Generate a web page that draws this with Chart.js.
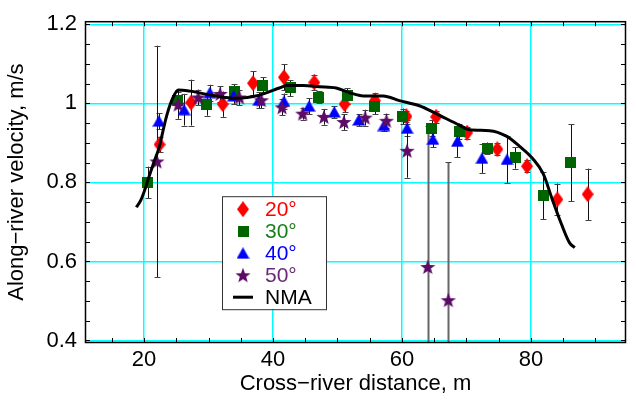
<!DOCTYPE html>
<html>
<head>
<meta charset="utf-8">
<script src="https://cdn.jsdelivr.net/npm/chart.js@4.4.0/dist/chart.umd.min.js"></script>
<style>
  html, body { margin: 0; padding: 0; background: #fff; }
  #wrap { width: 636px; height: 403px; }
</style>
</head>
<body>
<div id="wrap"><canvas id="velChart"></canvas></div>
<script>
// Values (distance in m, velocity in m/s, +/- error)
const dist20 = [22.4, 27.3, 32.2, 36.9, 41.7, 46.4, 51.1, 55.8, 60.7, 65.3, 70.1, 74.8, 79.4, 84.1, 88.8];
const vel20  = [0.896, 1.002, 0.998, 1.051, 1.066, 1.053, 0.998, 1.007, 0.967, 0.966, 0.926, 0.884, 0.841, 0.757, 0.770];
const err20  = [0.02, 0.058, 0.032, 0.03, 0.033, 0.02, 0.02, 0.02, 0.015, 0.015, 0.015, 0.015, 0.015, 0.04, 0.065];

const dist30 = [20.6, 25.2, 29.7, 34.0, 38.4, 42.7, 47.1, 51.5, 55.8, 60.1, 64.6, 68.9, 73.2, 77.6, 81.9, 86.2];
const vel30  = [0.800, 1.008, 0.997, 1.029, 1.046, 1.039, 1.016, 1.019, 0.992, 0.967, 0.937, 0.929, 0.886, 0.862, 0.767, 0.850];
const err30  = [0.04, 0.02, 0.028, 0.02, 0.02, 0.02, 0.015, 0.02, 0.02, 0.02, 0.02, 0.02, 0.015, 0.027, 0.06, 0.097];

const dist40 = [22.3, 26.2, 30.2, 33.9, 37.8, 41.7, 45.6, 49.5, 53.3, 57.2, 60.8, 64.8, 68.6, 72.4, 76.3];
const vel40  = [0.955, 0.984, 1.027, 1.019, 1.008, 1.005, 0.993, 0.978, 0.958, 0.944, 0.937, 0.909, 0.904, 0.861, 0.858];
const err40  = [0.02, 0.04, 0.02, 0.02, 0.02, 0.02, 0.02, 0.015, 0.015, 0.015, 0.02, 0.02, 0.04, 0.037, 0.06];

const dist50 = [22.0, 25.3, 28.4, 31.8, 34.8, 38.2, 41.4, 44.6, 47.9, 51.0, 54.3, 57.6, 60.8, 64.0, 67.2];
const vel50  = [0.853, 0.997, 1.015, 1.024, 1.015, 1.008, 0.990, 0.974, 0.966, 0.953, 0.964, 0.956, 0.880, 0.586, 0.502];
const err50  = [0.293, 0.036, 0.02, 0.02, 0.02, 0.02, 0.02, 0.015, 0.02, 0.02, 0.02, 0.018, 0.068, 0.357, 0.349];

// NMA model curve
const nmaDist = [18.8, 19.5, 20.3, 20.6, 21.5, 22.4, 23.0, 23.6, 24.5, 25.3, 27.1, 30.7, 34.3, 37.9, 41.0, 42.1, 44.7, 47.2, 49.8, 51.9, 54.0, 57.1, 59.6, 62.7, 65.3, 68.9, 70.5, 73.6, 76.2, 78.2, 80.3, 81.9, 83.4, 84.7, 86.0, 86.8];
const nmaVel  = [0.737, 0.755, 0.790, 0.806, 0.850, 0.892, 0.935, 0.974, 1.015, 1.034, 1.031, 1.020, 1.013, 1.021, 1.039, 1.045, 1.045, 1.042, 1.039, 1.027, 1.019, 1.019, 1.007, 0.994, 0.974, 0.945, 0.933, 0.931, 0.917, 0.892, 0.860, 0.822, 0.753, 0.696, 0.647, 0.635];

const xTicks = [20, 40, 60, 80];
const yTicks = [0.4, 0.6, 0.8, 1, 1.2];
const xMinor = [15, 20, 25, 30, 35, 40, 45, 50, 55, 60, 65, 70, 75, 80, 85, 90];
const yMinor = [0.4, 0.45, 0.5, 0.55, 0.6, 0.65, 0.7, 0.75, 0.8, 0.85, 0.9, 0.95, 1, 1.05, 1.1, 1.15, 1.2];

const FONT = '"Liberation Sans", Arial, Helvetica, sans-serif';

function toPoints(xs, ys) {
  return xs.map((x, i) => ({ x: x, y: ys[i] }));
}

// marker images (MATLAB-like shapes)
function makeMarker(kind, color) {
  const c = document.createElement('canvas');
  const g = c.getContext('2d');
  if (kind === 'diamond') {
    c.width = 12; c.height = 16;
    g.beginPath();
    g.moveTo(6, 0); g.lineTo(12, 8); g.lineTo(6, 16); g.lineTo(0, 8);
  } else if (kind === 'square') {
    c.width = 11; c.height = 11;
    g.beginPath();
    g.rect(0, 0, 11, 11);
  } else if (kind === 'triangle') {
    c.width = 13; c.height = 12;
    g.beginPath();
    g.moveTo(6.5, 0); g.lineTo(13, 11.5); g.lineTo(0, 11.5);
  } else {
    c.width = 16; c.height = 16;
    g.beginPath();
    for (let k = 0; k < 10; k++) {
      const r = k % 2 === 0 ? 8 : 3.3;
      const a = -Math.PI / 2 + k * Math.PI / 5;
      const px = 8 + r * Math.cos(a), py = 8.6 + r * Math.sin(a);
      if (k === 0) g.moveTo(px, py); else g.lineTo(px, py);
    }
  }
  g.closePath();
  g.fillStyle = color;
  g.fill();
  return c;
}

const errorBars = {
  id: 'errorBars',
  beforeDatasetsDraw(chart) {
    const { ctx, chartArea, scales } = chart;
    ctx.save();
    ctx.beginPath();
    ctx.rect(chartArea.left, chartArea.top, chartArea.right - chartArea.left, chartArea.bottom - chartArea.top);
    ctx.clip();
    chart.data.datasets.forEach(ds => {
      if (!ds.errors) return;
      ds.data.forEach((p, i) => {
        const e = ds.errors[i];
        const x = Math.round(scales.x.getPixelForValue(p.x)) + 0.5;
        const yTop = scales.y.getPixelForValue(p.y + e);
        const yBot = scales.y.getPixelForValue(p.y - e);
        const long = e > 0.3;
        ctx.strokeStyle = long ? '#666' : '#111';
        ctx.lineWidth = long ? 2 : 1;
        ctx.beginPath();
        ctx.moveTo(x, yTop); ctx.lineTo(x, yBot);
        ctx.stroke();
        ctx.strokeStyle = '#444';
        ctx.lineWidth = 1;
        ctx.beginPath();
        ctx.moveTo(x - 3, Math.round(yTop) + 0.5); ctx.lineTo(x + 3, Math.round(yTop) + 0.5);
        ctx.moveTo(x - 3, Math.round(yBot) + 0.5); ctx.lineTo(x + 3, Math.round(yBot) + 0.5);
        ctx.stroke();
      });
    });
    ctx.restore();
  }
};

const frameTicks = {
  id: 'frameTicks',
  afterDraw(chart) {
    const { ctx, chartArea: a, scales } = chart;
    ctx.save();
    ctx.strokeStyle = '#000';
    ctx.lineWidth = 1;
    ctx.beginPath();
    xMinor.forEach(v => {
      const x = Math.round(scales.x.getPixelForValue(v)) + 0.5;
      ctx.moveTo(x, a.bottom); ctx.lineTo(x, a.bottom - 5);
      ctx.moveTo(x, a.top); ctx.lineTo(x, a.top + 5);
    });
    yMinor.forEach(v => {
      const y = Math.round(scales.y.getPixelForValue(v)) + 0.5;
      ctx.moveTo(a.left, y); ctx.lineTo(a.left + 5, y);
      ctx.moveTo(a.right, y); ctx.lineTo(a.right - 5, y);
    });
    ctx.stroke();
    ctx.lineWidth = 1.5;
    ctx.strokeRect(a.left + 0.5, a.top + 0.5, a.right - a.left - 1, a.bottom - a.top - 1);
    ctx.restore();
  }
};

const legendBox = {
  id: 'legendBox',
  afterDraw(chart) {
    const { ctx, chartArea } = chart;
    const x0 = chartArea.left + 137, y0 = chartArea.top + 175;
    const w = 104, h = 113;
    ctx.save();
    ctx.fillStyle = '#fff';
    ctx.fillRect(x0, y0, w, h);
    ctx.strokeStyle = '#333';
    ctx.lineWidth = 1;
    ctx.strokeRect(x0 + 0.5, y0 + 0.5, w, h);
    ctx.font = '21px ' + FONT;
    ctx.textBaseline = 'middle';
    chart.data.datasets.forEach((ds, i) => {
      const y = y0 + 13 + i * 22;
      if (ds.showLine) {
        ctx.strokeStyle = '#000';
        ctx.lineWidth = 3;
        ctx.beginPath();
        ctx.moveTo(x0 + 11, y); ctx.lineTo(x0 + 31, y);
        ctx.stroke();
      } else {
        const m = ds.pointStyle;
        ctx.drawImage(m, x0 + 21 - m.width / 2, y - m.height / 2);
      }
      ctx.fillStyle = ds.legendColor;
      ctx.fillText(ds.label, x0 + 43, y + 1);
    });
    ctx.restore();
  }
};

const ctx = document.getElementById('velChart').getContext('2d');
new Chart(ctx, {
  type: 'scatter',
  data: {
    datasets: [
      { label: '20\u00b0', data: toPoints(dist20, vel20), errors: err20, pointStyle: makeMarker('diamond', '#ff0000'), legendColor: '#ff0000', order: 5 },
      { label: '30\u00b0', data: toPoints(dist30, vel30), errors: err30, pointStyle: makeMarker('square', '#006400'), legendColor: '#1a7f1a', order: 4 },
      { label: '40\u00b0', data: toPoints(dist40, vel40), errors: err40, pointStyle: makeMarker('triangle', '#0000ff'), legendColor: '#0000ff', order: 3 },
      { label: '50\u00b0', data: toPoints(dist50, vel50), errors: err50, pointStyle: makeMarker('star', '#5c0b66'), legendColor: '#6a2a78', order: 2 },
      { label: 'NMA', data: toPoints(nmaDist, nmaVel), showLine: true, borderColor: '#000', borderWidth: 3,
        pointRadius: 0, cubicInterpolationMode: 'monotone', legendColor: '#000', order: 1 }
    ]
  },
  options: {
    responsive: true,
    maintainAspectRatio: false,
    animation: false,
    devicePixelRatio: 1,
    layout: { padding: { left: 0, right: 10, top: 11, bottom: 0 } },
    plugins: { legend: { display: false }, tooltip: { enabled: false } },
    scales: {
      x: {
        type: 'linear',
        min: 10.84,
        max: 94.75,
        afterBuildTicks: s => { s.ticks = xTicks.map(v => ({ value: v })); },
        afterFit: s => { s.height = 60; },
        ticks: { color: '#000', font: { family: FONT, size: 22 }, padding: 4 },
        grid: { color: '#00ffff', lineWidth: 1.5, drawTicks: false },
        border: { display: false },
        title: { display: true, text: 'Cross\u2212river distance, m', color: '#000',
                 font: { family: FONT, size: 22 }, padding: { top: 0, bottom: 6 } }
      },
      y: {
        type: 'linear',
        min: 0.3936,
        max: 1.208,
        afterBuildTicks: s => { s.ticks = yTicks.map(v => ({ value: v })); },
        afterFit: s => { s.width = 85; },
        ticks: { color: '#000', font: { family: FONT, size: 22 }, padding: 8,
                 callback: v => String(Math.round(v * 10) / 10) },
        grid: { color: '#00ffff', lineWidth: 1.5, drawTicks: false },
        border: { display: false },
        title: { display: true, text: 'Along\u2212river velocity, m/s', color: '#000',
                 font: { family: FONT, size: 22 }, padding: { top: 4, bottom: 0 } }
      }
    }
  },
  plugins: [errorBars, frameTicks, legendBox]
});
</script>
</body>
</html>
